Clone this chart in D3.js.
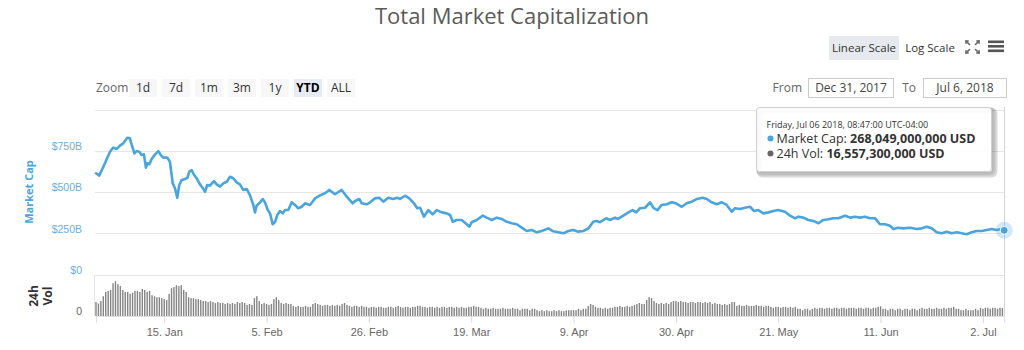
<!DOCTYPE html>
<html>
<head>
<meta charset="utf-8">
<script src="https://cdn.jsdelivr.net/npm/d3@7"></script>
<style>
  body { margin: 0; background: #fff; }
  svg { display: block; font-family: "Open Sans", "DejaVu Sans", sans-serif; }
</style>
</head>
<body>
<svg id="chart" width="1024" height="350"></svg>
<script>
// Total market capitalization, USD billions (chart-local time, UTC-04:00)
const capDates = [
  "2018-01-01 00:00","2018-01-01 16:00","2018-01-02 20:00","2018-01-03 21:00","2018-01-04 13:00","2018-01-05 06:00",
  "2018-01-05 22:00","2018-01-06 14:00","2018-01-07 10:00","2018-01-07 23:00","2018-01-08 08:00","2018-01-08 21:00",
  "2018-01-09 08:00","2018-01-09 21:00","2018-01-10 09:00","2018-01-10 20:00","2018-01-11 06:00","2018-01-11 13:00",
  "2018-01-11 23:00","2018-01-12 10:00","2018-01-13 03:00","2018-01-13 19:00","2018-01-14 07:00","2018-01-14 19:00",
  "2018-01-15 15:00","2018-01-16 04:00","2018-01-16 18:00","2018-01-17 05:00","2018-01-17 16:00","2018-01-18 02:00",
  "2018-01-18 14:00","2018-01-19 06:00","2018-01-19 18:00","2018-01-20 04:00","2018-01-20 15:00","2018-01-21 03:00",
  "2018-01-21 16:00","2018-01-22 05:00","2018-01-22 17:00","2018-01-23 09:00","2018-01-23 20:00","2018-01-24 09:00",
  "2018-01-25 05:00","2018-01-25 18:00","2018-01-26 11:00","2018-01-27 03:00","2018-01-27 20:00","2018-01-28 12:00",
  "2018-01-29 04:00","2018-01-29 21:00","2018-01-30 13:00","2018-01-31 05:00","2018-01-31 22:00","2018-02-01 14:00",
  "2018-02-02 07:00","2018-02-02 15:00","2018-02-02 23:00","2018-02-03 16:00","2018-02-04 05:00","2018-02-04 16:00",
  "2018-02-05 06:00","2018-02-05 17:00","2018-02-06 06:00","2018-02-06 18:00","2018-02-07 05:00","2018-02-07 18:00",
  "2018-02-08 08:00","2018-02-08 19:00","2018-02-09 11:00","2018-02-10 04:00","2018-02-10 20:00","2018-02-11 12:00",
  "2018-02-12 05:00","2018-02-12 21:00","2018-02-13 22:00","2018-02-14 23:00","2018-02-15 23:00","2018-02-17 00:00",
  "2018-02-17 21:00","2018-02-19 01:00","2018-02-20 10:00","2018-02-21 11:00","2018-02-22 16:00","2018-02-23 04:00",
  "2018-02-24 01:00","2018-02-24 13:00","2018-02-25 13:00","2018-02-26 06:00","2018-02-27 06:00","2018-02-28 03:00",
  "2018-02-28 23:00","2018-03-01 23:00","2018-03-03 00:00","2018-03-03 20:00","2018-03-04 09:00","2018-03-05 10:00",
  "2018-03-06 07:00","2018-03-07 06:00","2018-03-07 22:00","2018-03-08 12:00","2018-03-09 07:00","2018-03-10 05:00",
  "2018-03-11 02:00","2018-03-11 22:00","2018-03-12 23:00","2018-03-13 23:00","2018-03-14 16:00","2018-03-15 05:00",
  "2018-03-16 00:00","2018-03-17 01:00","2018-03-18 02:00","2018-03-18 15:00","2018-03-19 02:00","2018-03-20 03:00",
  "2018-03-21 09:00","2018-03-22 04:00","2018-03-23 05:00","2018-03-24 06:00","2018-03-25 06:00","2018-03-26 07:00",
  "2018-03-27 07:00","2018-03-28 08:00","2018-03-29 09:00","2018-03-30 09:00","2018-03-31 10:00","2018-04-01 11:00",
  "2018-04-02 11:00","2018-04-03 20:00","2018-04-04 20:00","2018-04-05 21:00","2018-04-06 22:00","2018-04-07 22:00",
  "2018-04-08 23:00","2018-04-09 23:00","2018-04-11 00:00","2018-04-12 01:00","2018-04-13 01:00","2018-04-13 18:00",
  "2018-04-14 10:00","2018-04-15 16:00","2018-04-16 12:00","2018-04-17 12:00","2018-04-18 04:00","2018-04-19 05:00",
  "2018-04-20 06:00","2018-04-21 03:00","2018-04-21 20:00","2018-04-22 15:00","2018-04-23 16:00","2018-04-24 17:00",
  "2018-04-25 09:00","2018-04-26 05:00","2018-04-27 02:00","2018-04-28 03:00","2018-04-29 03:00","2018-04-30 00:00",
  "2018-05-01 05:00","2018-05-02 05:00","2018-05-03 06:00","2018-05-04 06:00","2018-05-05 12:00","2018-05-06 08:00",
  "2018-05-07 08:00","2018-05-08 09:00","2018-05-09 10:00","2018-05-10 10:00","2018-05-11 11:00","2018-05-12 03:00",
  "2018-05-13 04:00","2018-05-14 04:00","2018-05-15 05:00","2018-05-16 01:00","2018-05-16 22:00","2018-05-17 23:00",
  "2018-05-18 23:00","2018-05-20 00:00","2018-05-21 00:00","2018-05-22 09:00","2018-05-23 10:00","2018-05-24 11:00",
  "2018-05-25 03:00","2018-05-26 04:00","2018-05-27 04:00","2018-05-28 05:00","2018-05-29 06:00","2018-05-30 06:00",
  "2018-05-31 07:00","2018-06-01 07:00","2018-06-02 08:00","2018-06-03 17:00","2018-06-04 18:00","2018-06-05 18:00",
  "2018-06-06 19:00","2018-06-07 19:00","2018-06-08 20:00","2018-06-09 21:00","2018-06-10 21:00","2018-06-11 22:00",
  "2018-06-12 22:00","2018-06-13 15:00","2018-06-14 15:00","2018-06-15 16:00","2018-06-17 01:00","2018-06-18 10:00",
  "2018-06-19 11:00","2018-06-20 11:00","2018-06-21 12:00","2018-06-22 12:00","2018-06-23 13:00","2018-06-24 14:00",
  "2018-06-25 14:00","2018-06-26 15:00","2018-06-27 16:00","2018-06-28 16:00","2018-06-29 17:00","2018-06-30 17:00",
  "2018-07-01 18:00","2018-07-02 19:00","2018-07-03 19:00","2018-07-04 20:00","2018-07-05 21:00","2018-07-06 08:47"
];
const capValues = [
  614,600,675,745,770,762, 782,796,830,826,786,735, 749,745,725,729,648,675,
  669,701,729,749,725,709, 709,684,553,523,466,543, 573,579,587,624,634,604,
  584,553,533,502,543,539, 567,547,533,553,563,593, 584,559,547,513,519,482,
  422,377,417,438,458,438, 391,371,305,320,361,385, 371,391,391,438,422,402,
  411,432,422,462,480,493, 513,487,513,472,432,446, 458,432,426,438,462,466,
  442,466,458,466,458,478, 462,432,402,405,351,391, 365,391,377,371,361,320,
  331,331,305,290,317,331, 357,345,331,345,337,320, 311,305,284,264,270,256,
  264,280,262,256,250,264, 270,260,264,280,320,325, 317,341,331,345,337,357,
  377,391,377,402,405,438, 405,391,422,426,438,432, 411,432,442,458,466,458,
  438,426,438,422,381,402, 397,405,411,385,391,371, 377,385,391,381,357,341,
  351,345,331,325,311,331, 335,341,341,357,345,351, 345,351,341,341,305,305,
  296,276,284,280,284,276, 280,290,280,256,250,260, 250,256,250,244,256,264,
  264,270,276,270,276,268.049
];

// 24h volume, USD billions, one bar every 12 hours from volStart
const volStart = "2018-01-01 00:00";
const volValues = [
  29,26,31,41,50,52,54,68,72,66, 62,54,50,50,46,48,52,52,50,56,
  54,50,52,43,41,39,39,37,35,33, 46,58,60,64,62,64,54,50,39,37,
  37,35,35,33,31,31,29,31,29,27, 29,27,27,25,27,25,27,25,29,27,
  29,27,23,25,23,37,41,31,25,27, 25,23,25,35,39,33,27,25,27,25,
  25,21,19,21,19,19,21,19,19,25, 27,25,23,21,23,23,21,23,21,23,
  21,25,27,23,21,19,21,21,19,21, 19,
  19,17,19,19,17,19,19,17,17,19,19,17,19,21,19,17,19,19,17,19,19,21,
  21,19,19,17,19,19,17,19,17,19,19,17,19,19,17,19,17,19,17,17,
  19,19,21,19,19,17,
  15,17,15,15,17,15,15,15,17,15,15,15,17,15,15,12,15,15,15,12,15,15,
  12,10,12,10,12,10,10,12,10,12,10,10,12,12,
  12,12,12,15,12,15,15,
  21,25,23,19,
  17,17,15,17,15,17,17,
  19,19,21,19,19,21,19,21,
  23,25,27,25,25,
  33,39,37,31,
  27,25,27,25,27,25,
  29,31,31,29,31,29,
  29,27,29,29,27,29,29,27,29,27,29,
  25,27,25,25,23,25,23,25,
  29,29,
  21,23,21,21,23,21,21,21,23,21,21,19,21,21,
  19,17,19,19,17,19,19,17,19,17,19,
  15,15,12,15,15,12,15,
  17,15,17,17,15,17,17,15,17,17,15,17,17,15,17,17,17,15,17,17,15,17,17,15,17,17,19,
  20,
  15,15,12,15,15,12,15,15,12,15,
  15,12,15,15,12,15,17,15,15,17,15,15,17,
  15,15,17,15,17,17,
  19,
  15,15,
  12,12,15,12,12,12,15,12,
  17,15,17,17,15,17,17,15,17,16.557
];

const capTicks = [0, 250, 500, 750, 1000];
const capTickLabels = ["$0", "$250B", "$500B", "$750B", ""];
const xTickDates = ["2018-01-15","2018-02-05","2018-02-26","2018-03-19","2018-04-09","2018-04-30","2018-05-21","2018-06-11","2018-07-02"];
const zoomButtons = ["1d", "7d", "1m", "3m", "1y", "YTD", "ALL"];
const selectedZoom = "YTD";
const rangeFrom = "Dec 31, 2017";
const rangeTo = "Jul 6, 2018";
const tooltipDate = "Friday, Jul 06 2018, 08:47:00 UTC-04:00";
const tooltipCap = "268,049,000,000 USD";
const tooltipVol = "16,557,300,000 USD";

const parseTime = d3.utcParse("%Y-%m-%d %H:%M");
const parseDay = d3.utcParse("%Y-%m-%d");
const capData = capDates.map((d, i) => ({ date: parseTime(d), value: capValues[i] }));
const volDates = d3.utcHour.every(12).range(parseTime(volStart), d3.utcHour.offset(parseTime(volStart), 12 * volValues.length));
const volData = volValues.map((v, i) => ({ date: volDates[i], value: v }));

const blue = "#4ba5dd";
const svg = d3.select("#chart");

// Layout
const plotLeft = 95, plotRight = 1005;
const x = d3.scaleUtc()
  .domain([capData[0].date, capData[capData.length - 1].date])
  .range([96, 1004.2]);
const yCap = d3.scaleLinear().domain([0, 1000]).range([274.5, 109.7]);
const yVol = d3.scaleLinear().domain([0, 85]).range([316, 275]);

// Title
svg.append("text")
  .attr("x", 512).attr("y", 24)
  .attr("text-anchor", "middle")
  .attr("font-size", 22).attr("fill", "#5a5a5a")
  .text("Total Market Capitalization");

// Scale toggle buttons
svg.append("rect").attr("x", 829).attr("y", 36).attr("width", 70).attr("height", 24).attr("fill", "#e6e9ee");
svg.append("text").attr("x", 864).attr("y", 52).attr("text-anchor", "middle")
  .attr("font-size", 11.5).attr("fill", "#333").text("Linear Scale");
svg.append("text").attr("x", 930).attr("y", 52).attr("text-anchor", "middle")
  .attr("font-size", 11.5).attr("fill", "#333").text("Log Scale");

// Fullscreen icon
const fs = svg.append("g").attr("stroke", "#666").attr("stroke-width", 1.6).attr("fill", "none").attr("stroke-linecap", "round");
[[966, 41, 1, 1], [979, 41, -1, 1], [966, 53, 1, -1], [979, 53, -1, -1]].forEach(([cx, cy, sx, sy]) => {
  fs.append("path").attr("d", `M${cx},${cy} l${3.5 * sx},${3.5 * sy}`);
  fs.append("path").attr("d", `M${cx},${cy + 2.2 * sy} L${cx},${cy} L${cx + 2.2 * sx},${cy}`);
});
// Menu icon
[40.5, 45, 49.5].forEach(yy => {
  svg.append("rect").attr("x", 988).attr("y", yy).attr("width", 16).attr("height", 2.6).attr("fill", "#555");
});

// Range selector buttons
svg.append("text").attr("x", 96).attr("y", 91.5).attr("font-size", 12).attr("fill", "#666").text("Zoom");
const btn = svg.append("g").selectAll("g").data(zoomButtons).join("g")
  .attr("transform", (d, i) => `translate(${129 + i * 33},79)`);
btn.append("rect").attr("width", 28).attr("height", 18)
  .attr("fill", d => d === selectedZoom ? "#e6ebf5" : "#f7f7f7");
btn.append("text").attr("x", 14).attr("y", 12.8).attr("text-anchor", "middle")
  .attr("font-size", 12)
  .attr("font-weight", d => d === selectedZoom ? "bold" : "normal")
  .attr("fill", d => d === selectedZoom ? "#000" : "#333")
  .text(d => d);

// Date range inputs
svg.append("text").attr("x", 802).attr("y", 91.5).attr("text-anchor", "end").attr("font-size", 12).attr("fill", "#666").text("From");
svg.append("rect").attr("x", 808.5).attr("y", 78.5).attr("width", 85).attr("height", 19).attr("fill", "#fff").attr("stroke", "#ccc");
svg.append("text").attr("x", 851).attr("y", 92).attr("text-anchor", "middle").attr("font-size", 12).attr("fill", "#444").text(rangeFrom);
svg.append("text").attr("x", 916).attr("y", 91.5).attr("text-anchor", "end").attr("font-size", 12).attr("fill", "#666").text("To");
svg.append("rect").attr("x", 923.5).attr("y", 78.5).attr("width", 83).attr("height", 19).attr("fill", "#fff").attr("stroke", "#ccc");
svg.append("text").attr("x", 965).attr("y", 92).attr("text-anchor", "middle").attr("font-size", 12).attr("fill", "#444").text(rangeTo);

// Grid lines of the market cap pane
svg.append("g").selectAll("line").data(capTicks).join("line")
  .attr("x1", plotLeft).attr("x2", plotRight)
  .attr("y1", d => Math.round(yCap(d)) + 0.5).attr("y2", d => Math.round(yCap(d)) + 0.5)
  .attr("stroke", "#e6e6e6");

// Volume pane left border
svg.append("line").attr("x1", 94.5).attr("x2", 94.5).attr("y1", 275).attr("y2", 316).attr("stroke", "#e6e6e6");

// Market cap axis labels
const capAxis = svg.append("g").attr("transform", "translate(82,0)")
  .call(d3.axisLeft(yCap).tickValues(capTicks.slice(0, 4)).tickSize(0).tickPadding(0)
    .tickFormat(d => capTickLabels[capTicks.indexOf(d)]));
capAxis.select(".domain").remove();
capAxis.selectAll("text").attr("transform", "translate(0,-4.5)")
  .attr("font-family", null).attr("font-size", 10.5).attr("fill", "#6aaee0");

// Volume axis label
const volAxis = svg.append("g").attr("transform", "translate(82,0)")
  .call(d3.axisLeft(yVol).tickValues([0]).tickSize(0).tickPadding(0));
volAxis.select(".domain").remove();
volAxis.selectAll("text").attr("transform", "translate(0,-4.5)")
  .attr("font-family", null).attr("font-size", 10.5).attr("fill", "#666");

// Axis titles
svg.append("text").attr("transform", "translate(33,192) rotate(-90)")
  .attr("text-anchor", "middle").attr("font-size", 11).attr("font-weight", "bold")
  .attr("fill", blue).text("Market Cap");
svg.append("text").attr("transform", "translate(37.5,296) rotate(-90)")
  .attr("text-anchor", "middle").attr("font-size", 12).attr("font-weight", "bold")
  .attr("fill", "#333").text("24h");
svg.append("text").attr("transform", "translate(51.5,296) rotate(-90)")
  .attr("text-anchor", "middle").attr("font-size", 12).attr("font-weight", "bold")
  .attr("fill", "#333").text("Vol");

// Volume bars
svg.append("g").selectAll("rect").data(volData).join("rect")
  .attr("x", d => x(d.date) - 0.7)
  .attr("width", 1.4)
  .attr("y", d => yVol(d.value))
  .attr("height", d => yVol(0) - yVol(d.value))
  .attr("fill", "#858585");

// X axis
const xAxis = svg.append("g").attr("transform", "translate(0,316)")
  .call(d3.axisBottom(x).tickValues(xTickDates.map(parseDay)).tickSize(7).tickPadding(5)
    .tickFormat(d3.utcFormat("%-d. %b")));
xAxis.select(".domain").attr("stroke", "#e0e0e0");
xAxis.selectAll(".tick line").attr("stroke", "#d8d8d8");
xAxis.selectAll("text").attr("font-family", null).attr("font-size", 11).attr("fill", "#666");

// Crosshair at the hovered point
const last = capData[capData.length - 1];
svg.append("line")
  .attr("x1", Math.round(x(last.date)) + 0.5).attr("x2", Math.round(x(last.date)) + 0.5)
  .attr("y1", 107).attr("y2", 316).attr("stroke", "#d5d5d5");

// Market cap line
svg.append("path").datum(capData)
  .attr("fill", "none").attr("stroke", blue).attr("stroke-width", 2.6)
  .attr("stroke-linejoin", "round").attr("stroke-linecap", "round")
  .attr("d", d3.line().x(d => x(d.date)).y(d => yCap(d.value)));

// Hover marker
svg.append("circle").attr("cx", x(last.date)).attr("cy", yCap(last.value)).attr("r", 8.5)
  .attr("fill", blue).attr("fill-opacity", 0.25);
svg.append("circle").attr("cx", x(last.date)).attr("cy", yCap(last.value)).attr("r", 4)
  .attr("fill", blue).attr("stroke", "#fff").attr("stroke-width", 1);

// Tooltip
const tip = svg.append("g").attr("transform", "translate(756.5,107.5)");
[3, 2, 1].forEach(o => {
  tip.append("rect").attr("x", o).attr("y", o).attr("width", 235).attr("height", 64).attr("rx", 3)
    .attr("fill", "none").attr("stroke", "#000").attr("stroke-opacity", 0.05 * o).attr("stroke-width", 2 * o);
});
tip.append("rect").attr("width", 235).attr("height", 64).attr("rx", 3)
  .attr("fill", "#fff").attr("fill-opacity", 0.92).attr("stroke", "#d0d0d0");
tip.append("text").attr("x", 10).attr("y", 20.5).attr("font-size", 9).attr("fill", "#333").text(tooltipDate);
tip.append("circle").attr("cx", 14).attr("cy", 31).attr("r", 3).attr("fill", blue);
const t1 = tip.append("text").attr("x", 20).attr("y", 35).attr("fill", "#333");
t1.append("tspan").attr("font-size", 12.5).text(" Market Cap: ");
t1.append("tspan").attr("font-size", 12.5).attr("font-weight", "bold").text(tooltipCap);
tip.append("circle").attr("cx", 14).attr("cy", 46).attr("r", 3).attr("fill", "#666");
const t2 = tip.append("text").attr("x", 20).attr("y", 50).attr("fill", "#333");
t2.append("tspan").attr("font-size", 12.5).text(" 24h Vol: ");
t2.append("tspan").attr("font-size", 12.5).attr("font-weight", "bold").text(tooltipVol);
</script>
</body>
</html>
